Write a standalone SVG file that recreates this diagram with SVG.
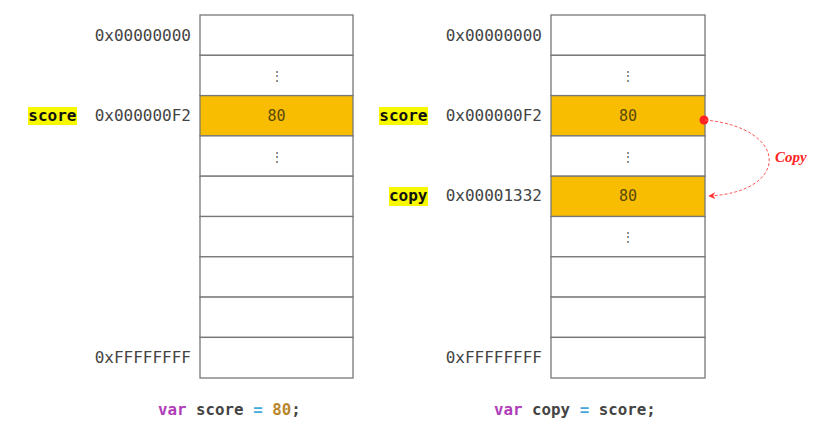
<svg xmlns="http://www.w3.org/2000/svg" width="819" height="430" viewBox="0 0 819 430">
<style>
.cell{fill:#fff;stroke:#777;stroke-width:1.3}
.hot{fill:#f8bc00;stroke:#777;stroke-width:1.3}
.addr{font-family:"DejaVu Sans Mono",monospace;font-size:16px;fill:#444;text-anchor:end}
.val{font-family:"DejaVu Sans Mono",monospace;font-size:15px;fill:#5a4a10;text-anchor:middle}
.dots{font-family:"DejaVu Sans Mono",monospace;font-size:12px;fill:#555;text-anchor:middle}
.var{font-family:"DejaVu Sans Mono",monospace;font-size:16px;font-weight:bold;fill:#111;text-anchor:end}
.hl{fill:#f7f700}
.code{font-family:"DejaVu Sans Mono",monospace;font-size:15.8px;font-weight:bold;fill:#444}
.kw{fill:#b03cb8}.op{fill:#44a8dc}.num{fill:#b8862a}
</style>
<defs>
<marker id="ah" viewBox="0 0 10 10" refX="9" refY="5" markerWidth="7" markerHeight="7" orient="auto">
<path d="M0,0 L10,5 L0,10 L3,5 Z" fill="#f33"/>
</marker>
</defs>
<g id="left-memory">
<rect class="cell" x="200" y="15" width="153" height="40.3"/>
<rect class="cell" x="200" y="55.3" width="153" height="40.3"/>
<rect class="hot" x="200" y="95.6" width="153" height="40.3"/>
<rect class="cell" x="200" y="135.9" width="153" height="40.3"/>
<rect class="cell" x="200" y="176.2" width="153" height="40.3"/>
<rect class="cell" x="200" y="216.5" width="153" height="40.3"/>
<rect class="cell" x="200" y="256.8" width="153" height="40.3"/>
<rect class="cell" x="200" y="297.1" width="153" height="40.3"/>
<rect class="cell" x="200" y="337.4" width="153" height="40.6"/>
<text class="dots" x="276.5" y="80">⋮</text>
<text class="val" x="276.5" y="121">80</text>
<text class="dots" x="276.5" y="161">⋮</text>
<text class="addr" x="191" y="41">0x00000000</text>
<text class="addr" x="191" y="121">0x000000F2</text>
<text class="addr" x="191" y="363">0xFFFFFFFF</text>
</g>
<g id="left-var-score">
<rect class="hl" x="28" y="107" width="49" height="18"/>
<text class="var" x="76.5" y="121">score</text>
</g>
<g id="right-memory">
<rect class="cell" x="551" y="15" width="154" height="40.3"/>
<rect class="cell" x="551" y="55.3" width="154" height="40.3"/>
<rect class="hot" x="551" y="95.6" width="154" height="40.3"/>
<rect class="cell" x="551" y="135.9" width="154" height="40.3"/>
<rect class="hot" x="551" y="176.2" width="154" height="40.3"/>
<rect class="cell" x="551" y="216.5" width="154" height="40.3"/>
<rect class="cell" x="551" y="256.8" width="154" height="40.3"/>
<rect class="cell" x="551" y="297.1" width="154" height="40.3"/>
<rect class="cell" x="551" y="337.4" width="154" height="40.6"/>
<text class="dots" x="628" y="80">⋮</text>
<text class="val" x="628" y="121">80</text>
<text class="dots" x="628" y="161">⋮</text>
<text class="val" x="628" y="201">80</text>
<text class="dots" x="628" y="241">⋮</text>
<text class="addr" x="542" y="41">0x00000000</text>
<text class="addr" x="542" y="121">0x000000F2</text>
<text class="addr" x="542" y="201">0x00001332</text>
<text class="addr" x="542" y="363">0xFFFFFFFF</text>
</g>
<g id="right-var-score">
<rect class="hl" x="379" y="107" width="49" height="18"/>
<text class="var" x="427.5" y="121">score</text>
</g>
<g id="right-var-copy">
<rect class="hl" x="389" y="187" width="39" height="19"/>
<text class="var" x="427.5" y="201">copy</text>
</g>
<g id="connectors">
<circle cx="704" cy="120" r="4.5" fill="#f22"/>
<path d="M705,120 C790,128 790,192 709,196" fill="none" stroke="#f55" stroke-width="1" stroke-dasharray="3,2" marker-end="url(#ah)"/>
<text x="775" y="162" font-family="Liberation Serif,serif" font-style="italic" font-weight="bold" font-size="15" fill="#f22">Copy</text>
</g>
<g id="code">
<text class="code" x="158" y="415"><tspan class="kw">var</tspan> score <tspan class="op">=</tspan> <tspan class="num">80</tspan>;</text>
<text class="code" x="494" y="415"><tspan class="kw">var</tspan> copy <tspan class="op">=</tspan> score;</text>
</g>
</svg>
